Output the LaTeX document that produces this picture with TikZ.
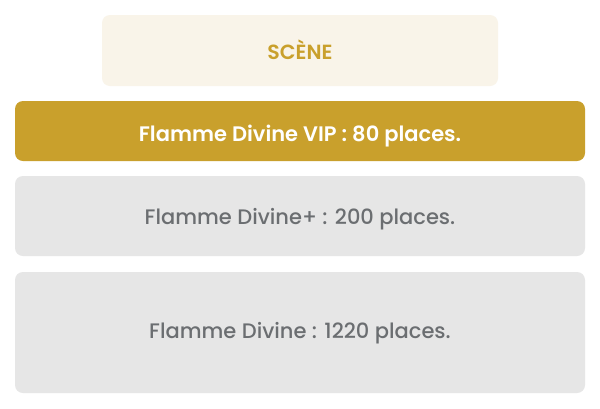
\documentclass[tikz,border=0pt]{standalone}
\usepackage{fontspec}
\setmainfont{Poppins}
\newfontfamily\popmed{Poppins Medium}
\newfontfamily\popsemi{Poppins SemiBold}
\definecolor{gold}{HTML}{C9A02C}
\definecolor{cream}{HTML}{F9F4E9}
\definecolor{lgray}{HTML}{E6E6E6}
\definecolor{tgray}{HTML}{6B6E71}
\tikzset{
  boxbase/.style={rounded corners=8pt},
  scenebox/.style={boxbase, fill=cream},
  vipbox/.style={boxbase, fill=gold},
  zonebox/.style={boxbase, fill=lgray},
  scenetext/.style={anchor=base, inner sep=0pt, text=gold, font=\fontsize{20.5}{24}\popsemi},
  viptext/.style={anchor=base, inner sep=0pt, text=white, font=\fontsize{21}{24}\popsemi},
  zonetext/.style={anchor=base, inner sep=0pt, text=tgray, font=\fontsize{21}{24}\popmed},
}
\begin{document}
\begin{tikzpicture}[x=1pt,y=-1pt]
\useasboundingbox[fill=white] (0,0) rectangle (600,408);
\fill[scenebox] (102,15) rectangle (498,86);
\node[scenetext] (scene) at (300,59.5) {SCÈNE};
\fill[vipbox] (15,101) rectangle (585,161);
\node[viptext] (vip) at (300,141) {Flamme Divine VIP : 80 places.};
\fill[zonebox] (15,176) rectangle (585,256);
\node[zonetext] (plus) at (300,224) {Flamme Divine+ : 200 places.};
\fill[zonebox] (15,272) rectangle (585,393);
\node[zonetext] (base) at (300,338) {Flamme Divine : 1220 places.};
\end{tikzpicture}
\end{document}
